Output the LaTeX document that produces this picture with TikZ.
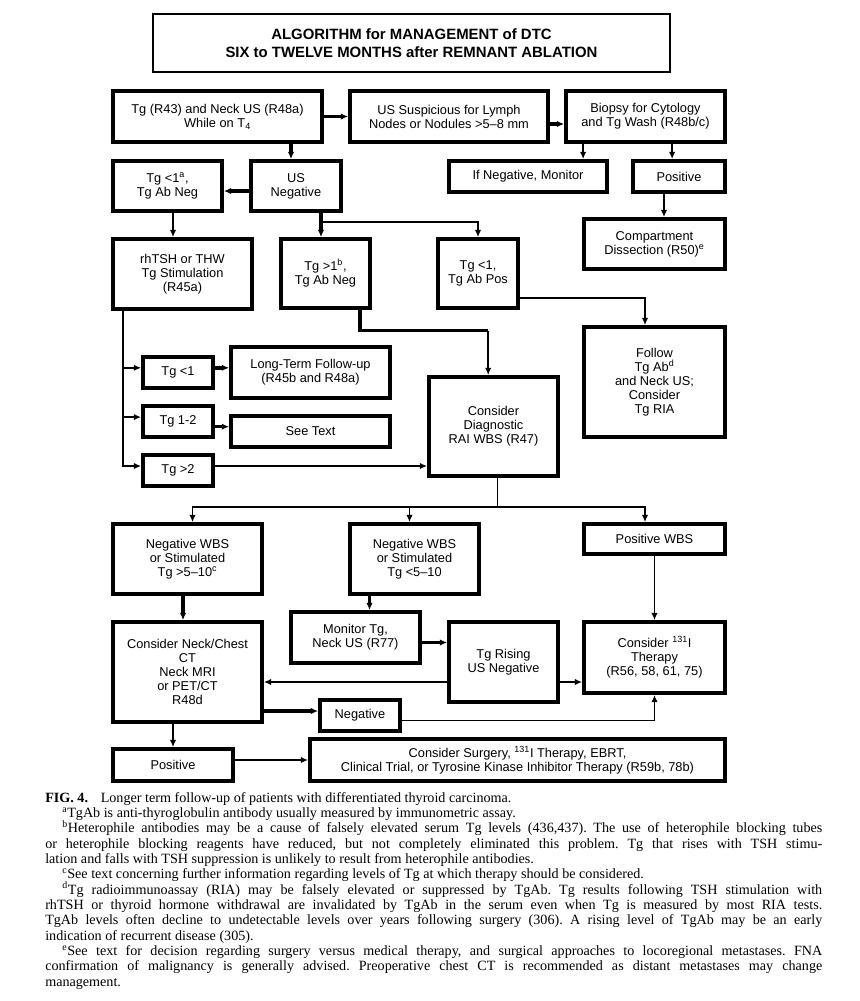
\documentclass[tikz,border=0pt]{standalone}
\usepackage{fontspec}
\setmainfont{Liberation Serif}
\newfontfamily\diagfont{Liberation Sans}
\usetikzlibrary{arrows.meta,calc}
\newlength\capw
\setlength\capw{582.75pt}
\newlength\capind
\setlength\capind{12.75pt}
\newcommand\bx[7][]{\node[box,#1,minimum width={(#5-#3)*0.75pt},minimum height={(#6-#4)*0.75pt}] (#2) at ({(#3+#5)/2},{(#4+#6)/2}) {#7};}
\tikzset{
  box/.style={draw, line width=2.8pt, align=center, inner sep=1pt, font={\diagfont\fontsize{9.6}{10.6}\selectfont}},
  titlebox/.style={line width=1.2pt, font={\diagfont\bfseries\fontsize{11.2}{13.7}\selectfont}},
  ln/.style={line width=1.3pt},
  lnm/.style={line width=1.7pt},
  lnk/.style={line width=2.6pt},
  arr/.style={-{Latex[length=5.5pt,width=4.8pt]}},
}
\begin{document}
\begin{tikzpicture}[x=0.75pt,y=-0.75pt]
\fill[white] (0,0) rectangle (860,1001);
\useasboundingbox (0,0) rectangle (860,1001);
% boxes
\bx[titlebox]{title}{153}{14}{670}{72}{ALGORITHM for MANAGEMENT of DTC\\SIX to TWELVE MONTHS after REMNANT ABLATION}
\bx{A}{113}{91}{322}{142}{Tg (R43) and Neck US (R48a)\\While on T\textsubscript{4}}
\bx{B}{350}{91}{548}{142}{US Suspicious for Lymph\\Nodes or Nodules >5–8 mm}
\bx{C}{566}{91}{725}{142}{Biopsy for Cytology\\and Tg Wash (R48b/c)}
\bx{tga}{113}{161}{222}{211}{Tg <1\textsuperscript{a},\\Tg Ab Neg}
\bx{usn}{251}{161}{341}{211}{US\\Negative}
\bx{ifneg}{449}{161}{607}{192}{If Negative, Monitor}
\bx{posa}{633}{161}{725}{192}{Positive}
\bx{comp}{584}{219}{725}{269}{Compartment\\Dissection (R50)\textsuperscript{e}}
\bx{rhtsh}{113}{239}{252}{309}{rhTSH or THW\\Tg Stimulation\\(R45a)}
\bx{tgb}{281}{239}{370}{308}{Tg >1\textsuperscript{b},\\Tg Ab Neg}
\bx{tgab}{438}{239}{518}{308}{Tg <1,\\Tg Ab Pos}
\bx{follow}{584}{327}{725}{437}{Follow\\Tg Ab\textsuperscript{d}\\and Neck US;\\Consider\\Tg RIA}
\bx{tglt}{143}{357}{213}{388}{Tg <1}
\bx{ltf}{231}{347}{390}{398}{Long-Term Follow-up\\(R45b and R48a)}
\bx{tgmid}{143}{406}{213}{437}{Tg 1-2}
\bx{seetext}{231}{416}{390}{447}{See Text}
\bx{tggt}{143}{455}{213}{486}{Tg >2}
\bx{cdx}{429}{377}{558}{476}{Consider\\Diagnostic\\RAI WBS (R47)}
\bx{nwa}{113}{524}{262}{594}{Negative WBS\\or Stimulated\\Tg >5–10\textsuperscript{c}}
\bx{nwb}{350}{524}{479}{594}{Negative WBS\\or Stimulated\\Tg <5–10}
\bx{pwbs}{584}{524}{725}{554}{Positive WBS}
\bx{cneck}{113}{622}{262}{722}{Consider Neck/Chest\\CT\\Neck MRI\\or PET/CT\\R48d}
\bx{monitor}{291}{612}{420}{663}{Monitor Tg,\\Neck US (R77)}
\bx{rising}{449}{622}{558}{702}{Tg Rising\\US Negative}
\bx{iod}{584}{622}{725}{693}{Consider \textsuperscript{131}I\\Therapy\\(R56, 58, 61, 75)}
\bx{neg}{320}{700}{400}{731}{Negative}
\bx{posb}{113}{749}{233}{781}{Positive}
\bx{surg}{310}{739}{725}{781}{Consider Surgery, \textsuperscript{131}I Therapy, EBRT,\\Clinical Trial, or Tyrosine Kinase Inhibitor Therapy (R59b, 78b)}
% connectors
\draw[lnk,arr] (A) -- (B);
\draw[lnk,arr] ($(B.east)+(0,7.5)$) -- ($(C.west)+(0,7.5)$);
\coordinate (a1) at ($(usn.north)+(-5,0)$);
\draw[lnk,arr] (a1 |- A.south) -- (a1);
\coordinate (a2) at ($(usn.west)+(0,5)$);
\draw[lnk,arr] (a2) -- (a2 -| tga.east);
\coordinate (c1) at ($(C.south west)+(19,0)$);
\draw[ln,arr] (c1) -- (c1 |- ifneg.north);
\coordinate (c2) at ($(C.south west)+(108,0)$);
\draw[ln,arr] (c2) -- (c2 |- posa.north);
\coordinate (p1) at ($(comp.north)+(9.5,0)$);
\draw[ln,arr] (p1 |- posa.south) -- (p1);
\coordinate (q1) at ($(tga.south)+(5.5,0)$);
\draw[ln,arr] (q1) -- (q1 |- rhtsh.north);
\coordinate (u1) at ($(usn.south)+(25,0)$);
\coordinate (j1) at ($(u1)+(0,9.3)$);
\draw[lnk,arr] (u1) -- (u1 |- tgb.north);
\draw[ln,arr] (j1) -| (tgab.north);
\coordinate (f1) at ($(tgab.east)+(0,24.6)$);
\coordinate (f2) at ($(follow.north)+(-9.5,0)$);
\draw[ln,arr] (f1) -| (f2);
\coordinate (k1) at ($(tgb.south)+(34.4,0)$);
\coordinate (k3) at ($(k1)+(0,20.7)$);
\coordinate (k2) at ($(cdx.north)+(-5.3,0)$);
\draw[lnk] (k1) -- (k3) -- (k3 -| k2);
\draw[ln,arr] (k3 -| k2) -- (k2);
\coordinate (r1) at ($(rhtsh.south west)+(11.6,0)$);
\coordinate (t1) at ($(tglt.west)+(0,-4.7)$);
\coordinate (t2) at ($(tgmid.west)+(0,-4.4)$);
\coordinate (t3) at ($(tggt.west)+(0,-4.5)$);
\draw[ln,arr] (r1) |- (t3);
\draw[ln,arr] (r1 |- t1) -- (t1);
\draw[ln,arr] (r1 |- t2) -- (t2);
\coordinate (e1) at ($(tglt.east)+(0,-4.7)$);
\draw[lnk,arr] (e1) -- (e1 -| ltf.west);
\coordinate (e2) at ($(tgmid.east)+(0,5.2)$);
\draw[lnk,arr] (e2) -- (e2 -| seetext.west);
\coordinate (e3) at ($(tggt.east)+(0,-4.5)$);
\draw[ln,arr] (e3) -- (e3 -| cdx.west);
\coordinate (b1) at ($(cdx.south)+(4,0)$);
\coordinate (b0) at ($(b1)+(0,29)$);
\draw[ln] (b1) -- (b0);
\draw[ln,arr] (b0) -| ($(nwa.north)+(5,0)$);
\draw[ln,arr] (b0) -| ($(nwb.north)+(-5,0)$);
\draw[ln,arr] (b0) -| ($(pwbs.north)+(-9.5,0)$);
\coordinate (n1) at ($(nwa.south)+(-4.5,0)$);
\draw[lnk,arr] (n1) -- (n1 |- cneck.north);
\coordinate (n2) at ($(nwb.south)+(-45,0)$);
\draw[lnk,arr] (n2) -- (n2 |- monitor.north);
\draw[ln,arr] (pwbs.south) -- (iod.north);
\coordinate (m1) at ($(monitor.east)+(0,5)$);
\draw[lnk,arr] (m1) -- (m1 -| rising.west);
\coordinate (g1) at ($(rising.west)+(0,20)$);
\draw[ln,arr] (g1) -- (g1 -| cneck.east);
\coordinate (g2) at ($(rising.east)+(0,20)$);
\draw[lnm,arr] (g2) -- (g2 -| iod.west);
\coordinate (g3) at ($(neg.west)+(0,-4.5)$);
\draw[lnk,arr] (g3 -| cneck.east) -- (g3);
\coordinate (g4) at ($(neg.east)+(0,5)$);
\draw[ln,arr] (g4) -| (iod.south);
\draw[ln,arr] (posb.north |- cneck.south) -- (posb.north);
\draw[ln,arr] (surg.west -| posb.east) -- (surg.west);
% caption
\node[anchor=north west, inner sep=0pt, align=left, font={\frenchspacing\fontsize{10.6}{11.5}\selectfont}] (cap) at (45,792) {%
\textbf{FIG. 4.}\hspace{0.9em}Longer term follow-up of patients with differentiated thyroid carcinoma.\\
\hspace*{\capind}\textsuperscript{a}TgAb is anti-thyroglobulin antibody usually measured by immunometric assay.\\
\makebox[\capw][s]{\hspace*{\capind}\textsuperscript{b}Heterophile antibodies may be a cause of falsely elevated serum Tg levels (436,437). The use of heterophile blocking tubes}\\
\makebox[\capw][s]{or heterophile blocking reagents have reduced, but not completely eliminated this problem. Tg that rises with TSH stimu-}\\
lation and falls with TSH suppression is unlikely to result from heterophile antibodies.\\
\hspace*{\capind}\textsuperscript{c}See text concerning further information regarding levels of Tg at which therapy should be considered.\\
\makebox[\capw][s]{\hspace*{\capind}\textsuperscript{d}Tg radioimmunoassay (RIA) may be falsely elevated or suppressed by TgAb. Tg results following TSH stimulation with}\\
\makebox[\capw][s]{rhTSH or thyroid hormone withdrawal are invalidated by TgAb in the serum even when Tg is measured by most RIA tests.}\\
\makebox[\capw][s]{TgAb levels often decline to undetectable levels over years following surgery (306). A rising level of TgAb may be an early}\\
indication of recurrent disease (305).\\
\makebox[\capw][s]{\hspace*{\capind}\textsuperscript{e}See text for decision regarding surgery versus medical therapy, and surgical approaches to locoregional metastases. FNA}\\
\makebox[\capw][s]{confirmation of malignancy is generally advised. Preoperative chest CT is recommended as distant metastases may change}\\
management.};
\end{tikzpicture}
\end{document}
